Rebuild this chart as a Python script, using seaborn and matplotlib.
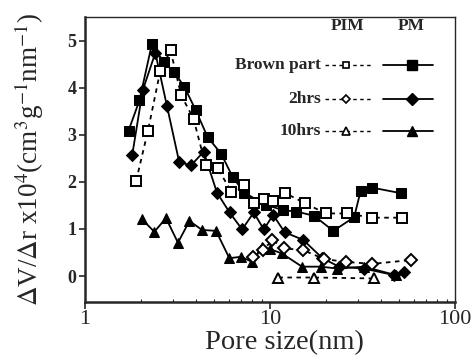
import matplotlib
matplotlib.use("Agg")
import matplotlib.pyplot as plt
import seaborn as sns
import pandas as pd
from matplotlib.lines import Line2D

# ---- data ----
brown_pm_x = [1.72, 1.97, 2.30, 2.66, 3.04, 3.45, 3.96, 4.60, 5.44, 6.29, 7.27, 9.5, 11.8, 13.9, 17.3, 22.0, 28.5, 30.9, 35.4, 51.0]
brown_pm_y = [3.09, 3.73, 4.93, 4.54, 4.33, 4.01, 3.53, 2.95, 2.60, 2.10, 1.77, 1.51, 1.40, 1.37, 1.28, 0.96, 1.25, 1.81, 1.88, 1.76]

brown_pim_x = [1.89, 2.19, 2.55, 2.90, 3.31, 3.86, 4.49, 5.21, 6.19, 7.21, 8.24, 9.26, 10.36, 11.98, 15.4, 20.0, 26.2, 35.4, 51.6]
brown_pim_y = [2.02, 3.09, 4.35, 4.79, 3.84, 3.34, 2.35, 2.29, 1.79, 1.94, 1.56, 1.64, 1.60, 1.77, 1.55, 1.33, 1.33, 1.24, 1.24]

h2_pm_x = [1.80, 2.05, 2.40, 2.77, 3.23, 3.74, 4.38, 5.17, 6.05, 7.07, 8.17, 9.26, 10.4, 12.0, 15.1, 19.2, 23.6, 32.2, 46.9, 52.7]
h2_pm_y = [2.57, 3.94, 4.74, 3.62, 2.42, 2.35, 2.64, 1.77, 1.35, 0.99, 1.35, 0.99, 1.30, 0.93, 0.77, 0.38, 0.20, 0.16, 0.02, 0.09]

h2_pim_x = [8.11, 9.19, 10.3, 11.85, 15.1, 19.7, 25.9, 35.8, 57.7]
h2_pim_y = [0.41, 0.55, 0.77, 0.59, 0.55, 0.36, 0.30, 0.26, 0.34]

h10_pm_x = [2.03, 2.37, 2.74, 3.18, 3.67, 4.29, 5.11, 6.03, 6.98, 8.01, 9.07, 10.06, 11.6, 14.9, 18.8, 23.1, 32.2, 47.9]
h10_pm_y = [1.21, 0.94, 1.23, 0.71, 1.17, 0.98, 0.96, 0.38, 0.41, 0.30, 0.61, 0.57, 0.48, 0.20, 0.20, 0.16, 0.20, 0.02]

h10_pim_x = [11.1, 17.3, 36.3]
h10_pim_y = [-0.03, -0.03, -0.05]

series_labels = ["Brown part", "2hrs", "10hrs"]
x_ticks = [1, 10, 100]
y_ticks = [0, 1, 2, 3, 4, 5]

# ---- style ----
sns.set_style("ticks")
plt.rcParams["font.family"] = ["Liberation Serif", "DejaVu Serif"]
plt.rcParams["mathtext.fontset"] = "stix"

fig = plt.figure(figsize=(4.75, 3.61), dpi=100)
ax = fig.add_axes([85/475, 59/361, 370/475, 285/361])

markers = ["s", "D", "^"]
pm_sets = [(brown_pm_x, brown_pm_y), (h2_pm_x, h2_pm_y), (h10_pm_x, h10_pm_y)]
pim_sets = [(brown_pim_x, brown_pim_y), (h2_pim_x, h2_pim_y), (h10_pim_x, h10_pim_y)]
msizes = [6.5, 6, 7.5]

for (x, y), m, ms in zip(pm_sets, markers, msizes):
    df = pd.DataFrame({"x": x, "y": y})
    sns.lineplot(data=df, x="x", y="y", ax=ax, sort=False, estimator=None,
                 color="black", linewidth=1.3, marker=m, markersize=ms,
                 markerfacecolor="black", markeredgecolor="black")

for (x, y), m, ms in zip(pim_sets, markers, msizes):
    df = pd.DataFrame({"x": x, "y": y})
    sns.lineplot(data=df, x="x", y="y", ax=ax, sort=False, estimator=None,
                 color="black", linewidth=1.3, linestyle=(0, (2.5, 2.5)),
                 marker=m, markersize=ms, markerfacecolor="white",
                 markeredgecolor="black", markeredgewidth=1.4)

ax.set_xscale("log")
ax.set_xlim(1, 100)
ax.set_ylim(-0.55, 5.5)
ax.set_xticks(x_ticks)
ax.set_xticklabels([str(t) for t in x_ticks], fontsize=16)
ax.set_yticks(y_ticks)
ax.set_yticklabels([str(t) for t in y_ticks], fontsize=13, fontweight="bold")
ax.tick_params(axis="x", which="major", direction="out", length=5, width=1.2, pad=1)
ax.tick_params(axis="x", which="minor", direction="in", length=2, width=0.8)
ax.tick_params(axis="y", which="major", direction="out", length=4, width=1.2, pad=2)

for s in ["left", "bottom"]:
    ax.spines[s].set_linewidth(1.8)
for s in ["top", "right"]:
    ax.spines[s].set_linewidth(1.0)

ax.set_xlabel("Pore size(nm)", fontsize=20.5)
ax.xaxis.set_label_coords(0.54, -0.10)
ax.set_ylabel(r"$\Delta$V/$\Delta$r x10$^{4}$(cm$^{3}$g$^{-1}$nm$^{-1}$)", fontsize=19.5)
ax.yaxis.set_label_coords(-0.105, 0.50)

# ---- custom legend ----
fig.text(348/475, 1 - 26/361, "PIM", ha="center", va="center", fontsize=12.5, fontweight="bold")
fig.text(411/475, 1 - 26/361, "PM", ha="center", va="center", fontsize=12.5, fontweight="bold")
rows_py = [65, 99, 131]
for lab, m, ms, py in zip(series_labels, markers, msizes, rows_py):
    yf = 1 - py/361
    fig.text(321/475, yf, lab, ha="right", va="center", fontsize=12.5, fontweight="bold")
    fig.add_artist(Line2D([325/475, 371/475], [yf, yf], color="black", linewidth=1.0,
                          linestyle=(0, (2.5, 2.5))))
    fig.add_artist(Line2D([346/475], [yf], marker=m, markersize=ms-1.5, color="black",
                          markerfacecolor="white", markeredgewidth=1.2, linestyle="none"))
    fig.add_artist(Line2D([383/475, 433/475], [yf, yf], color="black", linewidth=1.3))
    fig.add_artist(Line2D([412/475], [yf], marker=m, markersize=ms, color="black",
                          markerfacecolor="black", linestyle="none"))

fig.savefig("out.png", dpi=100)
